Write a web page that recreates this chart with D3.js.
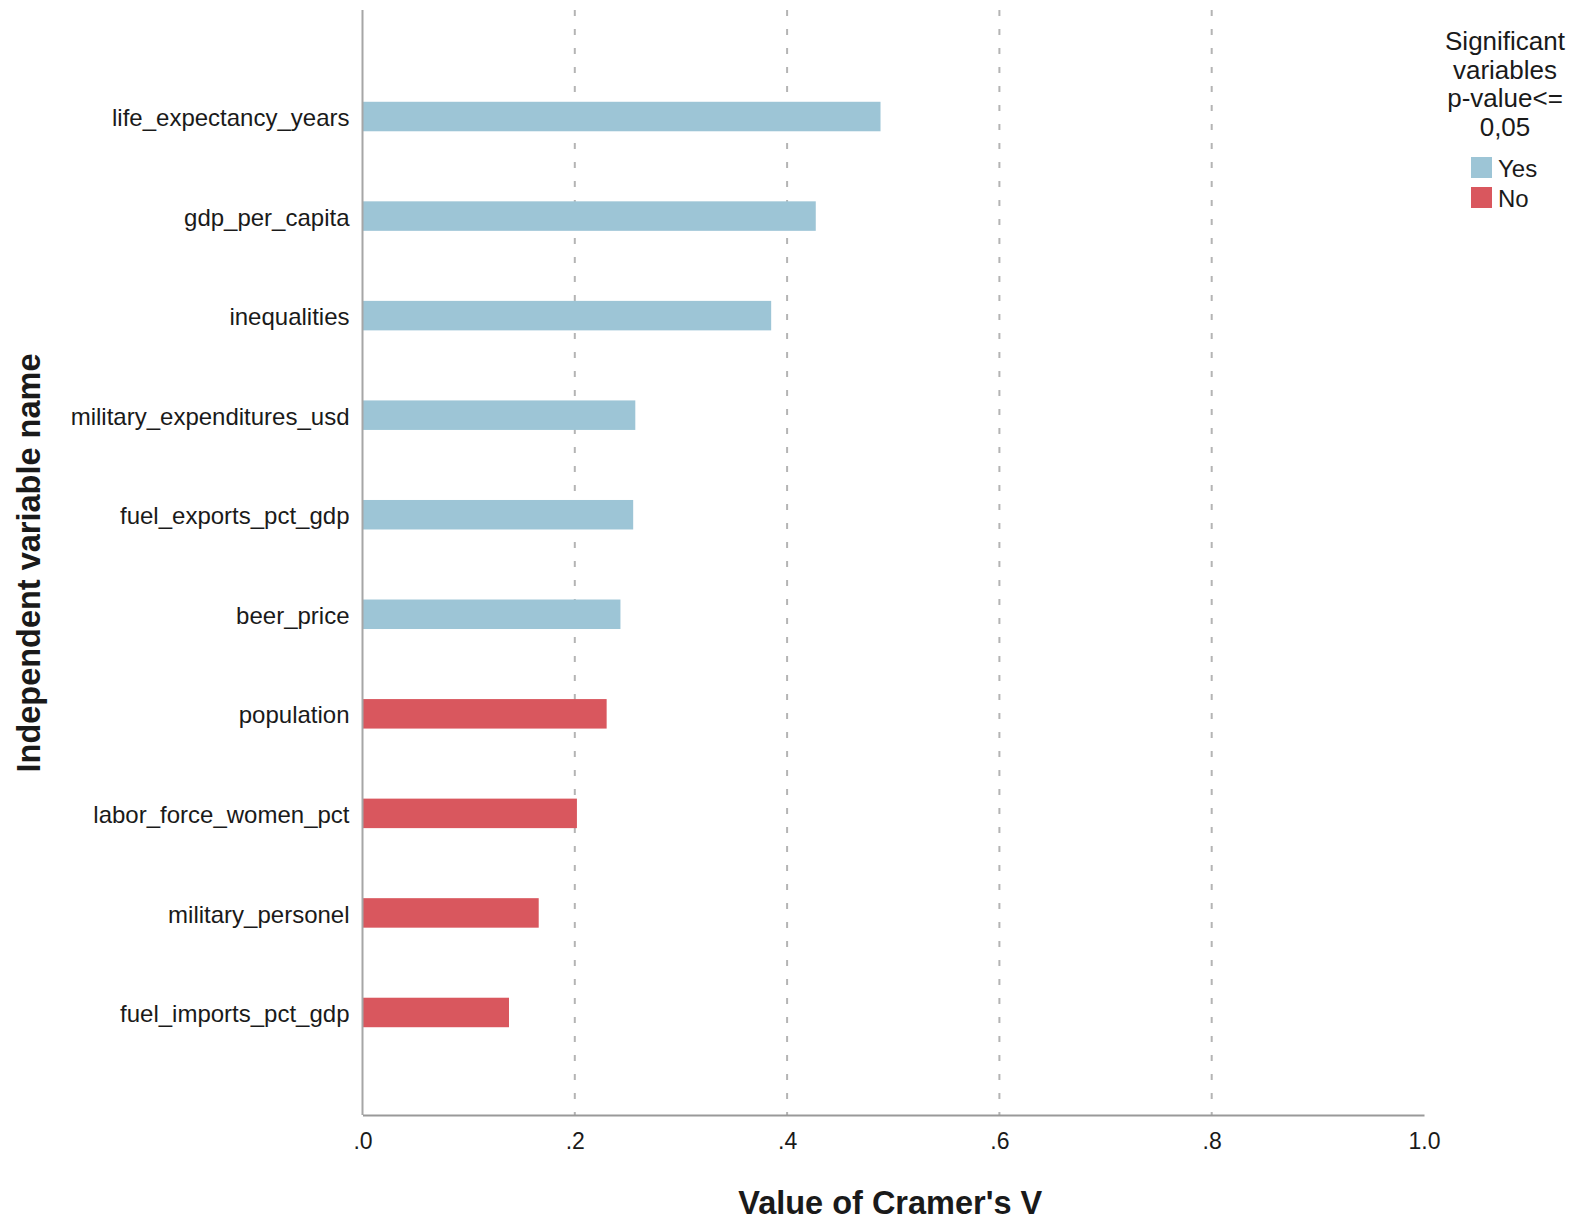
<!DOCTYPE html>
<html>
<head>
<meta charset="utf-8">
<script src="https://cdn.jsdelivr.net/npm/d3@7"></script>
<style>
    body { margin: 0; background: #fff; }
    text { font-family: "Liberation Sans", Arial, sans-serif; fill: #1a1a1a; }
</style>
</head>
<body>
<div id="chart"></div>
<script>
// Cramer's V per independent variable, sorted descending
const variables = [
    'life_expectancy_years',
    'gdp_per_capita',
    'inequalities',
    'military_expenditures_usd',
    'fuel_exports_pct_gdp',
    'beer_price',
    'population',
    'labor_force_women_pct',
    'military_personel',
    'fuel_imports_pct_gdp'
];
const cramersV = [0.488, 0.427, 0.385, 0.257, 0.255, 0.243, 0.230, 0.202, 0.166, 0.138];
const significant = ['Yes', 'Yes', 'Yes', 'Yes', 'Yes', 'Yes', 'No', 'No', 'No', 'No'];
const xTicks = [0, 0.2, 0.4, 0.6, 0.8, 1.0];
const legendTitle = ['Significant', 'variables', 'p-value<=', '0,05'];
const legendKeys = ['Yes', 'No'];

const width = 1579;
const height = 1221;
const plot = { left: 362.5, right: 1424, top: 10, bottom: 1115 };

const colors = { Yes: '#9dc5d6', No: '#d9575e' };

const data = variables.map((name, i) => ({
    name: name,
    value: cramersV[i],
    sig: significant[i]
}));

const svg = d3.select('#chart')
    .append('svg')
    .attr('width', width)
    .attr('height', height);

const x = d3.scaleLinear()
    .domain([0, 1])
    .range([plot.left, plot.right]);

// bar centres sit a touch below the symmetric band layout
const y = d3.scalePoint()
    .domain(variables)
    .range([plot.top + 2, plot.bottom + 2])
    .padding(1.05);

const barHeight = 29.5;

// Dashed gridlines
svg.append('g')
    .selectAll('line')
    .data(xTicks.filter(d => d > 0 && d < 1))
    .enter().append('line')
    .attr('x1', d => x(d))
    .attr('x2', d => x(d))
    .attr('y1', plot.top)
    .attr('y2', plot.bottom)
    .attr('stroke', '#b4b4b4')
    .attr('stroke-width', 2)
    .attr('stroke-dasharray', '6,13');

// Bars
svg.append('g')
    .selectAll('rect')
    .data(data)
    .enter().append('rect')
    .attr('x', x(0))
    .attr('y', d => y(d.name) - barHeight / 2)
    .attr('width', d => x(d.value) - x(0))
    .attr('height', barHeight)
    .attr('fill', d => colors[d.sig]);

// Y axis line
svg.append('line')
    .attr('x1', x(0)).attr('x2', x(0))
    .attr('y1', plot.top).attr('y2', plot.bottom)
    .attr('stroke', '#a6a6a6')
    .attr('stroke-width', 2);

// X axis
const fmt = d => d === 1 ? '1.0' : d3.format('.1f')(d).replace(/^0/, '');
const xAxis = svg.append('g')
    .attr('transform', `translate(0,${plot.bottom})`)
    .call(d3.axisBottom(x).tickValues(xTicks).tickFormat(fmt).tickSize(0).tickPadding(18));
xAxis.select('.domain')
    .attr('stroke', '#999')
    .attr('stroke-width', 2);
xAxis.selectAll('text')
    .attr('font-size', '23px')
    .attr('font-family', '"Liberation Sans", Arial, sans-serif')
    .attr('fill', '#1a1a1a');

// Category labels
svg.append('g')
    .selectAll('text')
    .data(variables)
    .enter().append('text')
    .attr('x', x(0) - 13)
    .attr('y', d => y(d))
    .attr('dy', '0.4em')
    .attr('text-anchor', 'end')
    .attr('font-size', '24px')
    .text(d => d);

// Axis titles
svg.append('text')
    .attr('x', (plot.left + plot.right) / 2 - 3)
    .attr('y', 1214)
    .attr('text-anchor', 'middle')
    .attr('font-size', '32.5px')
    .attr('font-weight', 'bold')
    .text("Value of Cramer's V");

svg.append('text')
    .attr('transform', 'translate(40,563) rotate(-90)')
    .attr('text-anchor', 'middle')
    .attr('font-size', '32.5px')
    .attr('font-weight', 'bold')
    .text('Independent variable name');

// Legend
const legend = svg.append('g');
legend.selectAll('text.title')
    .data(legendTitle)
    .enter().append('text')
    .attr('class', 'title')
    .attr('x', 1505)
    .attr('y', (d, i) => 41 + i * 28.5)
    .attr('dy', '0.35em')
    .attr('text-anchor', 'middle')
    .attr('font-size', '26px')
    .text(d => d);

const keys = legend.selectAll('g.key')
    .data(legendKeys)
    .enter().append('g')
    .attr('class', 'key')
    .attr('transform', (d, i) => `translate(1471,${157 + i * 30})`);
keys.append('rect')
    .attr('width', 21)
    .attr('height', 21)
    .attr('fill', d => colors[d]);
keys.append('text')
    .attr('x', 27)
    .attr('y', 12)
    .attr('dy', '0.35em')
    .attr('font-size', '24px')
    .text(d => d);
</script>
</body>
</html>
